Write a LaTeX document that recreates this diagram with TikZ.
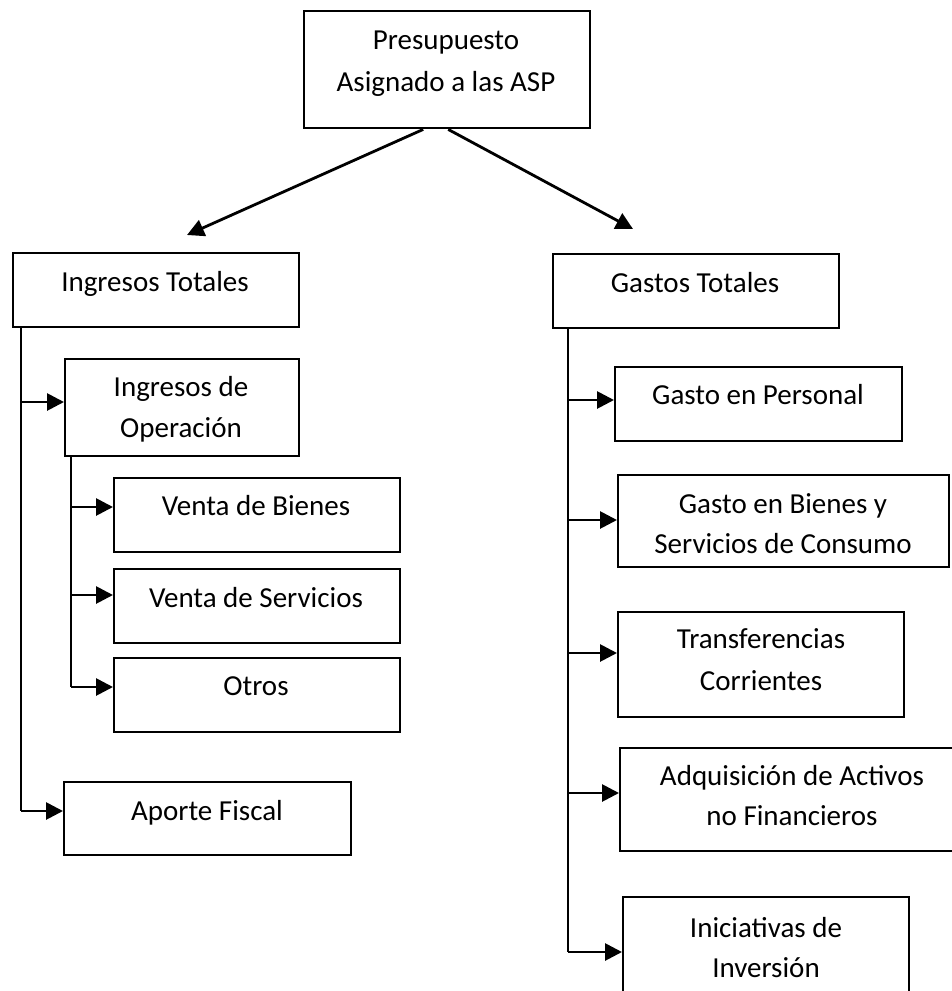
\documentclass[tikz,border=0pt]{standalone}
\usepackage{fontspec}
\setmainfont{Carlito}
\usetikzlibrary{arrows.meta,calc}
\begin{document}
\begin{tikzpicture}[x=1pt,y=-1pt,
  box/.style={draw=black,line width=2.4pt,rectangle,anchor=north west,inner sep=0pt},
  txt/.style={anchor=base,inner sep=0pt,font=\fontsize{29}{41}\selectfont},
  conn/.style={line width=2.8pt,-{Triangle[length=17pt,width=17pt]}},
  trunk/.style={line width=2.8pt}]
\useasboundingbox (0,0) rectangle (952,991);
% boxes
\node[box,minimum width=286pt,minimum height=117pt] (top) at (303,10) {};
\node[box,minimum width=286pt,minimum height=74pt] (it) at (12,252) {};
\node[box,minimum width=234pt,minimum height=97pt] (io) at (64,358) {};
\node[box,minimum width=286pt,minimum height=74pt] (vb) at (113,477) {};
\node[box,minimum width=286pt,minimum height=74pt] (vs) at (113,568) {};
\node[box,minimum width=286pt,minimum height=74pt] (ot) at (113,657) {};
\node[box,minimum width=287pt,minimum height=73pt] (af) at (63,781) {};
\node[box,minimum width=286pt,minimum height=74pt] (gt) at (552,253) {};
\node[box,minimum width=287pt,minimum height=74pt] (gp) at (614,366) {};
\node[box,minimum width=331pt,minimum height=92pt] (gb) at (617,474) {};
\node[box,minimum width=286pt,minimum height=105pt] (tc) at (617,611) {};
\node[box,minimum width=346pt,minimum height=103pt] (aa) at (619,747) {};
\node[box,minimum width=286pt,minimum height=120pt] (ii) at (622,896) {};
% texts
\node[txt] (t1) at (446,49) {Presupuesto};
\node[txt] (t2) at (446,91) {Asignado a las ASP};
\node[txt] (t3) at (155,291) {Ingresos Totales};
\node[txt] (t4) at (181,396) {Ingresos de};
\node[txt] (t5) at (181,437) {Operación};
\node[txt] (t6) at (256,515) {Venta de Bienes};
\node[txt] (t7) at (256,607) {Venta de Servicios};
\node[txt] (t8) at (256,695) {Otros};
\node[txt] (t9) at (207,820) {Aporte Fiscal};
\node[txt] (t10) at (695,292) {Gastos Totales};
\node[txt] (t11) at (758,404) {Gasto en Personal};
\node[txt] (t12) at (783,513) {Gasto en Bienes y};
\node[txt] (t13) at (783,553) {Servicios de Consumo};
\node[txt] (t14) at (761,648) {Transferencias};
\node[txt] (t15) at (761,690) {Corrientes};
\node[txt] (t16) at (792,785) {Adquisición de Activos};
\node[txt] (t17) at (792,825) {no Financieros};
\node[txt] (t18) at (766,937) {Iniciativas de};
\node[txt] (t19) at (766,977) {Inversión};
% top arrows
\coordinate (tl) at (187,235);
\coordinate (tr) at (633,229);
\draw[conn] ($(top.south)+(-24,0)$) -- (tl);
\draw[conn] ($(top.south)+(1,0)$) -- (tr);
% left trunk
\coordinate (l1) at (21,402);
\coordinate (l2) at (21,811);
\draw[trunk] (it.south -| l1) -- (l2);
\draw[conn] (l1) -- (l1 -| io.west);
\draw[conn] (l2) -- (l2 -| af.west);
% inner trunk
\coordinate (m1) at (71,507);
\coordinate (m2) at (71,595);
\coordinate (m3) at (71,687);
\draw[trunk] (io.south -| m1) -- (m3);
\draw[conn] (m1) -- (m1 -| vb.west);
\draw[conn] (m2) -- (m2 -| vs.west);
\draw[conn] (m3) -- (m3 -| ot.west);
% right trunk
\coordinate (r1) at (568,400);
\coordinate (r2) at (568,520);
\coordinate (r3) at (568,653);
\coordinate (r4) at (568,793);
\coordinate (r5) at (568,952);
\draw[trunk] (gt.south -| r1) -- (r5);
\draw[conn] (r1) -- (r1 -| gp.west);
\draw[conn] (r2) -- (r2 -| gb.west);
\draw[conn] (r3) -- (r3 -| tc.west);
\draw[conn] (r4) -- (r4 -| aa.west);
\draw[conn] (r5) -- (r5 -| ii.west);
\end{tikzpicture}
\end{document}
